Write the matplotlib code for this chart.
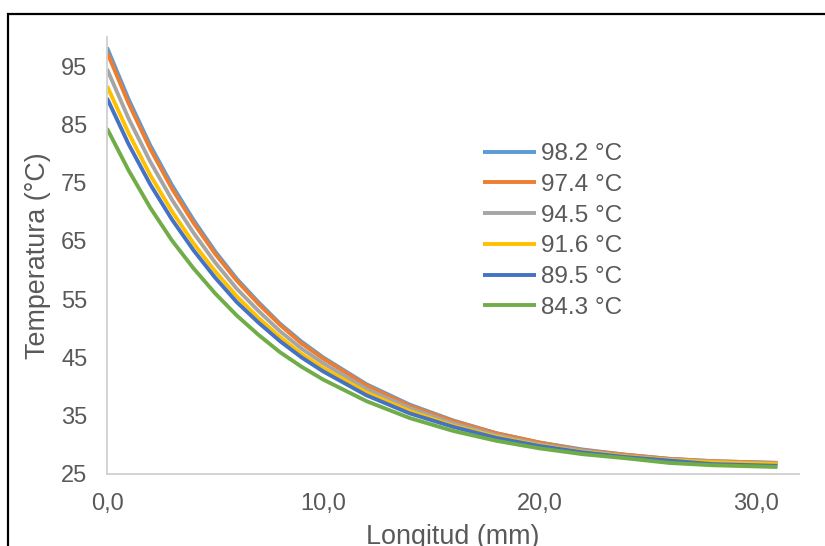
import matplotlib
matplotlib.use("Agg")
import matplotlib.pyplot as plt
from matplotlib.patches import Rectangle

# longitud (mm)
longitud = [0, 1, 2, 3, 4, 5, 6, 7, 8, 9, 10, 12, 14, 16, 18, 20, 22, 24, 26, 28, 30, 31]

# temperatura (°C)
t_982 = [98.2, 89.3, 81.4, 74.6, 68.6, 63.2, 58.5, 54.5, 50.8, 47.7, 45.0, 40.4, 36.9, 34.2,
         32.0, 30.4, 29.2, 28.3, 27.6, 27.2, 27.0, 26.9]
t_974 = [97.4, 88.6, 80.8, 74.0, 68.1, 62.8, 58.2, 54.2, 50.6, 47.4, 44.8, 40.2, 36.7, 34.1,
         32.0, 30.4, 29.1, 28.3, 27.6, 27.2, 27.0, 26.9]
t_945 = [94.5, 86.0, 78.6, 72.1, 66.4, 61.3, 56.8, 53.0, 49.5, 46.5, 44.0, 39.6, 36.3, 33.7,
         31.7, 30.1, 29.0, 28.1, 27.5, 27.1, 26.9, 26.8]
t_916 = [91.6, 83.5, 76.3, 70.1, 64.6, 59.8, 55.5, 51.8, 48.5, 45.6, 43.2, 39.0, 35.8, 33.3,
         31.4, 29.9, 28.8, 28.0, 27.4, 27.0, 26.8, 26.7]
t_895 = [89.5, 81.6, 74.7, 68.7, 63.4, 58.7, 54.5, 51.0, 47.8, 45.0, 42.6, 38.5, 35.4, 33.1,
         31.2, 29.8, 28.7, 27.9, 27.3, 26.7, 26.5, 26.4]
t_843 = [84.3, 77.1, 70.7, 65.1, 60.3, 56.0, 52.2, 48.9, 45.9, 43.4, 41.2, 37.5, 34.6, 32.4,
         30.7, 29.4, 28.4, 27.7, 26.9, 26.5, 26.3, 26.2]

series = [t_982, t_974, t_945, t_916, t_895, t_843]
etiquetas = ["98.2 °C", "97.4 °C", "94.5 °C", "91.6 °C", "89.5 °C", "84.3 °C"]
colores = ["#5B9BD5", "#ED7D31", "#A5A5A5", "#FFC000", "#4472C4", "#70AD47"]

plt.rcParams['font.family'] = ['Liberation Sans', 'DejaVu Sans']
gris = '#595959'

fig = plt.figure(figsize=(8.25, 5.46), dpi=100)
ax = fig.add_axes([107/825, 1-474/546, (799-107)/825, (474-37)/546])

for y, lab, c in zip(series, etiquetas, colores):
    ax.plot(longitud, y, color=c, lw=2.8, label=lab, solid_capstyle='butt')

ax.set_xlim(0, 32)
ax.set_ylim(25, 100)
ax.set_xticks([0, 10, 20, 30])
ax.set_xticklabels(["0,0", "10,0", "20,0", "30,0"])
ax.set_yticks([25, 35, 45, 55, 65, 75, 85, 95])
ax.tick_params(length=0, colors=gris, labelsize=17)
ax.tick_params(axis='y', pad=14)
ax.tick_params(axis='x', pad=14)
for s in ['top', 'right']:
    ax.spines[s].set_visible(False)
for s in ['left', 'bottom']:
    ax.spines[s].set_color('#D0D0D0')
    ax.spines[s].set_linewidth(1.3)

ax.set_xlabel("Longitud (mm)", fontsize=19.4, color=gris, labelpad=6)
ax.set_ylabel("Temperatura (°C)", fontsize=19.4, color=gris, labelpad=7)

leg = ax.legend(loc='upper left', bbox_to_anchor=(483/825, 1-143/546),
                bbox_transform=fig.transFigure, frameon=False, fontsize=17.5,
                handlelength=2.2, handletextpad=0.17, labelspacing=0.36,
                borderpad=0, borderaxespad=0)
for t in leg.get_texts():
    t.set_color(gris)

# marco del grafico
fig.patches.append(Rectangle((8/825, -0.1), 1.2, 0.1 + 1 - 14/546, transform=fig.transFigure,
                             fill=False, edgecolor='black', lw=1.6, clip_on=False))

fig.savefig("out.png", dpi=100)
